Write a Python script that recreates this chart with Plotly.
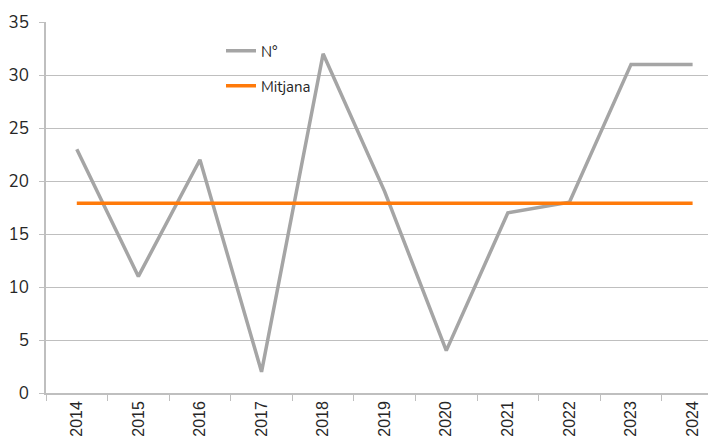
import plotly.graph_objects as go

years = ["2014", "2015", "2016", "2017", "2018", "2019", "2020", "2021", "2022", "2023", "2024"]
n_values = [23, 11, 22, 2, 32, 19, 4, 17, 18, 31, 31]
mean_values = [17.9] * len(years)
y_ticks = [0, 5, 10, 15, 20, 25, 30, 35]

# page body adds an 8px offset; work in figure coordinates
OFF = 8
W, H = 716 - OFF, 442 - OFF
PL, PR, PT, PB = 46, 716, 22, 393   # plot area in window pixels
L, R, T, B = PL - OFF, W - (PR - OFF), PT - OFF, H - (PB - OFF)

fig = go.Figure()
fig.add_trace(go.Scatter(x=years, y=n_values, mode="lines", name="N°",
                         line=dict(color="#A5A5A5", width=3.5), legend="legend"))
fig.add_trace(go.Scatter(x=years, y=mean_values, mode="lines", name="Mitjana",
                         line=dict(color="#FF7A0A", width=3.5), legend="legend2"))

pw = PR - PL
ph = PB - PT
def lx(px):
    return (px - PL) / pw
def ly(py):
    return 1 - (py - PT) / ph

legfont = dict(family="Nunito, Lato, 'Open Sans', sans-serif", size=15, color="#262626")
fig.update_layout(
    width=W, height=H,
    margin=dict(l=L, r=R, t=T, b=B, autoexpand=False),
    paper_bgcolor="white", plot_bgcolor="white",
    showlegend=True,
    legend=dict(x=lx(221), y=ly(51), yanchor="middle", xanchor="left",
                bgcolor="rgba(0,0,0,0)", font=legfont, itemwidth=30),
    legend2=dict(x=lx(221), y=ly(86), yanchor="middle", xanchor="left",
                 bgcolor="rgba(0,0,0,0)", font=legfont, itemwidth=30),
    xaxis=dict(
        type="category", range=[-0.5, 10.38], automargin=False,
        showline=True, linecolor="#BFBFBF", linewidth=1.5,
        ticks="outside", tickson="boundaries", ticklen=6, tickcolor="#BFBFBF",
        tickangle=-90, showgrid=False,
        tickfont=dict(family="Liberation Sans, Arial, sans-serif", size=16, color="#262626"),
    ),
    yaxis=dict(
        range=[0, 35], tickvals=y_ticks, automargin=False,
        showline=True, linecolor="#BFBFBF", linewidth=1.5,
        ticks="outside", ticklen=5, tickcolor="#BFBFBF", ticklabelstandoff=7,
        showgrid=True, gridcolor="#BFBFBF", gridwidth=1,
        zeroline=False,
        tickfont=dict(family="Nunito, Lato, 'Open Sans', sans-serif", size=17, color="#262626"),
    ),
)

fig.write_html("out.html")
